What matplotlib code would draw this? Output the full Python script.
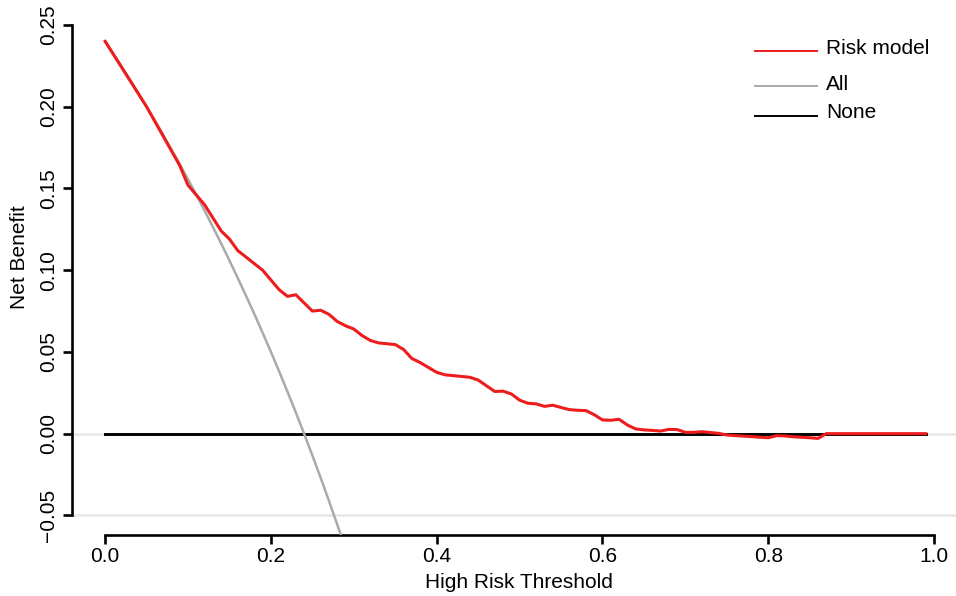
import matplotlib
matplotlib.use("Agg")
import matplotlib.pyplot as plt
from matplotlib.lines import Line2D

plt.rcParams['font.family'] = ['Liberation Sans', 'DejaVu Sans']

# Thresholds and net benefit values
thr_model = [0.00, 0.01, 0.02, 0.03, 0.04, 0.05, 0.06, 0.07, 0.08, 0.09,
             0.10, 0.11, 0.12, 0.13, 0.14, 0.15, 0.16, 0.17, 0.18, 0.19,
             0.20, 0.21, 0.22, 0.23, 0.24, 0.25, 0.26, 0.27, 0.28, 0.29,
             0.30, 0.31, 0.32, 0.33, 0.34, 0.35, 0.36, 0.37, 0.38, 0.39,
             0.40, 0.41, 0.42, 0.43, 0.44, 0.45, 0.46, 0.47, 0.48, 0.49,
             0.50, 0.51, 0.52, 0.53, 0.54, 0.55, 0.56, 0.57, 0.58, 0.59,
             0.60, 0.61, 0.62, 0.63, 0.64, 0.65, 0.66, 0.67, 0.68, 0.69,
             0.70, 0.71, 0.72, 0.73, 0.74, 0.75, 0.76, 0.77, 0.78, 0.79,
             0.80, 0.81, 0.82, 0.83, 0.84, 0.85, 0.86, 0.87, 0.88, 0.89,
             0.90, 0.91, 0.92, 0.93, 0.94, 0.95, 0.96, 0.97, 0.98, 0.99]
nb_model = [0.240, 0.232, 0.224, 0.216, 0.208, 0.200, 0.191, 0.182, 0.173, 0.164,
            0.152, 0.146, 0.140, 0.132, 0.124, 0.119, 0.112, 0.108, 0.104, 0.100,
            0.094, 0.088, 0.084, 0.085, 0.080, 0.075, 0.0755, 0.073, 0.0686, 0.066,
            0.064, 0.060, 0.057, 0.0555, 0.055, 0.0545, 0.0515, 0.046, 0.0435, 0.0405,
            0.0375, 0.036, 0.0355, 0.035, 0.0345, 0.0328, 0.0293, 0.0258, 0.026, 0.0243,
            0.0205, 0.0186, 0.0182, 0.0167, 0.0174, 0.016, 0.0147, 0.0143, 0.0141, 0.0116,
            0.0084, 0.0082, 0.0088, 0.0053, 0.0029, 0.0023, 0.0020, 0.0016, 0.0026, 0.0025,
            0.0008, 0.0008, 0.0012, 0.0007, 0.0002, -0.0008, -0.0012, -0.0015, -0.0018, -0.0022,
            -0.0025, -0.0012, -0.0014, -0.0019, -0.0022, -0.0025, -0.0029, 0.0, 0.0, 0.0,
            0.0, 0.0, 0.0, 0.0, 0.0, 0.0, 0.0, 0.0, 0.0, 0.0]

thr_all = [0.00, 0.01, 0.02, 0.03, 0.04, 0.05, 0.06, 0.07, 0.08, 0.09,
           0.10, 0.11, 0.12, 0.13, 0.14, 0.15, 0.16, 0.17, 0.18, 0.19,
           0.20, 0.21, 0.22, 0.23, 0.24, 0.25, 0.26, 0.27, 0.28, 0.29]
nb_all = [0.2400, 0.2323, 0.2245, 0.2165, 0.2083, 0.2000, 0.1915, 0.1828, 0.1739, 0.1648,
          0.1556, 0.1461, 0.1364, 0.1264, 0.1163, 0.1059, 0.0952, 0.0843, 0.0732, 0.0617,
          0.0500, 0.0380, 0.0256, 0.0130, 0.0000, -0.0133, -0.0270, -0.0411, -0.0556, -0.0704]

thr_none = [0.00, 0.99]
nb_none = [0.0, 0.0]

x_ticks = [0.0, 0.2, 0.4, 0.6, 0.8, 1.0]
x_ticklabels = ["0.0", "0.2", "0.4", "0.6", "0.8", "1.0"]
y_ticks = [-0.05, 0.00, 0.05, 0.10, 0.15, 0.20, 0.25]
y_ticklabels = ["\u22120.05", "0.00", "0.05", "0.10", "0.15", "0.20", "0.25"]
legend_labels = ["Risk model", "All", "None"]

W, H = 956, 596
fig = plt.figure(figsize=(W / 100, H / 100), dpi=100)
left_px, right_px, top_px, bottom_px = 72, 967.2, 5.4, 535
ax = fig.add_axes([left_px / W, 1 - bottom_px / H,
                   (right_px - left_px) / W, (bottom_px - top_px) / H])
ax.set_xlim(-0.04, 1.04)
ax.set_ylim(-0.062, 0.262)

ax.axhline(0.0, color="#e6e6e6", lw=1.8, zorder=1)
ax.axhline(-0.05, color="#e6e6e6", lw=1.8, zorder=1)

ax.plot(thr_none, nb_none, color="black", lw=2.1, zorder=2)
ax.plot(thr_all, nb_all, color="#aaaaaa", lw=1.8, zorder=3)
ax.plot(thr_model, nb_model, color="#ee1c1c", lw=2.2, zorder=4)

for s in ["top", "right"]:
    ax.spines[s].set_visible(False)
ax.spines["left"].set_bounds(-0.05, 0.25)
ax.spines["bottom"].set_bounds(0.0, 1.0)
ax.spines["left"].set_linewidth(1.9)
ax.spines["bottom"].set_linewidth(1.9)

ax.set_xticks(x_ticks)
ax.set_xticklabels(x_ticklabels)
ax.set_yticks(y_ticks)
ax.set_yticklabels(y_ticklabels)
ax.tick_params(axis="both", direction="out", length=6.3, width=1.9, labelsize=15)
ax.tick_params(axis="x", pad=2)
ax.tick_params(axis="y", pad=4, labelrotation=90)
for lab in ax.get_yticklabels():
    lab.set_va("center")

fig.text(519 / W, 1 - 583 / H, "High Risk Threshold", ha="center", va="center", fontsize=15)
fig.text(20 / W, 1 - 257 / H, "Net Benefit", ha="center", va="center", rotation=90, fontsize=15)

# legend drawn manually
leg_colors = ["#ee1c1c", "#aaaaaa", "black"]
line_y = [51, 86, 116]
text_y = [48, 84, 113]
for lab, c, ly, ty in zip(legend_labels, leg_colors, line_y, text_y):
    fig.add_artist(Line2D([755 / W, 817 / W], [1 - ly / H, 1 - ly / H], color=c, lw=1.4,
                          transform=fig.transFigure))
    fig.text(826 / W, 1 - ty / H, lab, ha="left", va="center", fontsize=15)

fig.savefig("out.png", dpi=100)
